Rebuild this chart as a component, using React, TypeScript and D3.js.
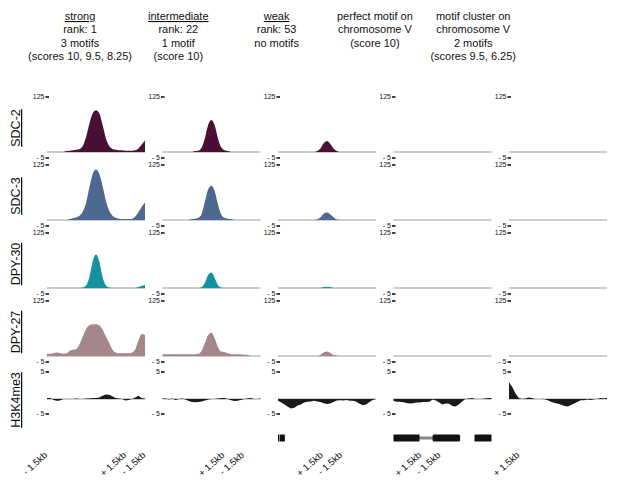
import * as d3 from 'd3';

const W = 617;
const H = 493;

// column ids and header text
const columns = ['strong', 'intermediate', 'weak', 'perfect', 'cluster'];
const headerLines = [
  ['strong', 'rank: 1', '3 motifs', '(scores 10, 9.5, 8.25)'],
  ['intermediate', 'rank: 22', '1 motif', '(score 10)'],
  ['weak', 'rank: 53', 'no motifs'],
  ['perfect motif on', 'chromosome V', '(score 10)'],
  ['motif cluster on', 'chromosome V', '2 motifs', '(scores 9.5, 6.25)'],
];
const titleUnderlined = [true, true, true, false, false];

const tracks = ['SDC-2', 'SDC-3', 'DPY-30', 'DPY-27', 'H3K4me3'];
const trackColors = ['#4a0f34', '#4f6890', '#15939d', '#a5868a', '#1a1a1a'];
const peakTicks = [-5, 125];
const histoneTicks = [-5, 5];

// bin centres, bp relative to the motif (-1.5kb .. +1.5kb)
const bins = d3.range(-1500, 1501, 100);

// ChIP signal per column (strong, intermediate, weak, perfect, cluster)
const sdc2Strong = [0, 0, 0, 0, 0, 0, 2, 3, 4, 5, 7, 14, 35, 65, 88, 95, 88, 62, 32, 14, 7, 5, 4, 4, 3, 3, 3, 4, 8, 17, 26];
const sdc2Intermediate = [0, 0, 0, 0, 0, 0, 0, 0, 0, 0, 2, 3, 10, 32, 62, 73, 60, 30, 10, 4, 2, 0, 0, 0, 0, 0, 0, 0, 0, 0, 0];
const sdc2Weak = [0, 0, 0, 0, 0, 0, 0, 0, 0, 0, 0, 0, 2, 8, 20, 25, 18, 8, 2, 0, 0, 0, 0, 0, 0, 0, 0, 0, 0, 0, 0];

const sdc3Strong = [0, 0, 0, 0, 0, 0, 0, 2, 4, 6, 10, 20, 40, 75, 105, 115, 105, 78, 45, 22, 10, 5, 3, 2, 2, 2, 3, 8, 18, 30, 40];
const sdc3Intermediate = [0, 0, 0, 0, 0, 0, 0, 0, 0, 2, 3, 5, 14, 42, 70, 78, 65, 35, 12, 5, 3, 2, 0, 0, 0, 0, 0, 0, 0, 0, 0];
const sdc3Weak = [0, 0, 0, 0, 0, 0, 0, 0, 0, 0, 0, 0, 1, 6, 14, 17, 13, 6, 1, 0, 0, 0, 0, 0, 0, 0, 0, 0, 0, 0, 0];

const dpy30Strong = [0, 0, 0, 0, 0, 0, 0, 0, 0, 0, 0, 1, 6, 25, 60, 76, 60, 25, 6, 1, 0, 0, 0, 0, 0, 0, 0, 0, 2, 5, 7];
const dpy30Intermediate = [0, 0, 0, 0, 0, 0, 0, 0, 0, 0, 0, 0, 2, 12, 30, 35, 22, 6, 1, 0, 0, 0, 0, 0, 0, 0, 0, 0, 0, 0, 0];
const dpy30Weak = [0, 0, 0, 0, 0, 0, 0, 0, 0, 0, 0, 0, 0, 0, 2, 3, 2, 0, 0, 0, 0, 0, 0, 0, 0, 0, 0, 0, 0, 0, 0];

const dpy27Strong = [5, 5, 6, 8, 7, 5, 6, 12, 14, 16, 28, 45, 62, 70, 72, 72, 70, 60, 45, 30, 15, 8, 6, 6, 6, 6, 8, 15, 35, 50, 48];
const dpy27Intermediate = [4, 4, 4, 4, 4, 4, 4, 4, 4, 4, 4, 5, 12, 30, 48, 53, 40, 20, 10, 9, 6, 4, 4, 4, 4, 3, 3, 0, 0, 0, 0];
const dpy27Weak = [0, 0, 0, 0, 0, 0, 0, 0, 0, 0, 0, 0, 0, 3, 8, 10, 7, 3, 1, 0, 0, 0, 0, 0, 0, 0, 0, 0, 0, 0, 0];

const h3Strong = [0.2, 0.2, -0.3, -0.6, -0.5, 0, 0, 0, 0, 0.1, 0, 0, 0.1, 0.1, 0.2, 0.2, 0.3, 0.6, 0.85, 0.8, 0.5, 0.2, 0.1, 0, -0.5, -0.3, 0, 0.3, 0.6, 0.2, 0.1];
const h3Intermediate = [0.1, 0.1, -0.2, 0.1, -0.3, 0, 0.1, -0.2, -0.7, -1.0, -1.1, -1.0, -0.8, -0.5, -0.2, 0, 0, 0.1, 0.2, 0.2, 0, -0.4, -0.7, -0.6, -0.3, 0, 0.1, 0.2, 0, 0, 0.1];
const h3Weak = [-0.6, -1.2, -1.8, -2.6, -3.2, -2.9, -2.2, -1.8, -1.2, -0.9, -0.8, -0.6, -0.8, -1.0, -1.4, -1.7, -1.5, -1.0, -0.5, -0.4, -0.5, -0.3, -0.6, -0.6, -0.9, -1.6, -2.1, -1.8, -1.0, -0.3, 0];
const h3Perfect = [-0.7, -0.9, -0.9, -1.1, -1.3, -1.5, -1.4, -1.2, -1.2, -1.0, -1.0, -0.9, -0.2, -0.5, -1.2, -1.8, -1.5, -1.6, -2.3, -2.5, -1.8, -0.8, 0, 0.1, 0.2, 0, 0, 0, 0.1, 0.2, 0.2];
const h3Cluster = [3.1, 2.2, 1.0, 0.2, 0, 0.1, 0.3, 0.2, 0, 0, 0, -0.1, -0.5, -1.0, -1.3, -1.6, -1.9, -2.3, -2.5, -2.0, -1.5, -0.9, -0.4, -0.4, -0.2, -0.3, -0.1, 0, 0.2, 0.1, 0.2];

const noSignal: number[] = [];

const signal: number[][][] = [
  [sdc2Strong, sdc2Intermediate, sdc2Weak, noSignal, noSignal],
  [sdc3Strong, sdc3Intermediate, sdc3Weak, noSignal, noSignal],
  [dpy30Strong, dpy30Intermediate, dpy30Weak, noSignal, noSignal],
  [dpy27Strong, dpy27Intermediate, dpy27Weak, noSignal, noSignal],
  [h3Strong, h3Intermediate, h3Weak, h3Perfect, h3Cluster],
];

// gene models under the panels, [start, end] in bp
const weakExons = [[-1500, -1455], [-1440, -1290]];
const perfectExons = [[-1500, -705], [-305, 540], [980, 1500]];
const perfectIntrons = [[-705, -305]];
const geneExons = [[], [], weakExons, perfectExons, []];
const geneIntrons = [[], [], [], perfectIntrons, []];

const FONT = '"Liberation Sans", Arial, sans-serif';

const colBand = d3.scaleBand<string>().domain(columns).range([47, 607]).paddingInner(0.1515);
const labelBand = d3.scaleBand<string>().domain(columns).range([47, 47 + 98.3 * 5]);
const rowBand = d3.scaleBand<string>().domain(tracks).range([97, 97 + 68 * 5]);

function yScale(track: string) {
  const top = rowBand(track)!;
  if (track === 'H3K4me3') {
    return d3.scaleLinear().domain([-5, 0, 5]).range([top + 45, top + 30, top + 3]);
  }
  return d3.scaleLinear().domain([-5, 0, 125]).range([top + 61, top + 55, top]);
}

const fmtTick = (d: number) => (d < 0 ? `- ${-d}` : `${d}`);

export default function App() {
  return (
    <svg width={W} height={H} style={{ position: 'absolute', left: 0, top: 0, background: '#fff' }}>
      {/* column headers */}
      {columns.map((c, ci) => {
        const cx = labelBand(c)! + 33;
        return (
          <text key={c} x={cx} textAnchor="middle" fontFamily={FONT} fontSize={11} fill="#111">
            {headerLines[ci].map((line, li) => (
              <tspan key={li} x={cx} y={20 + li * 13.3}
                textDecoration={li === 0 && titleUnderlined[ci] ? 'underline' : undefined}>
                {line}
              </tspan>
            ))}
          </text>
        );
      })}

      {/* track rows */}
      {tracks.map((t, ti) => {
        const y = yScale(t);
        const top = rowBand(t)!;
        const isHist = t === 'H3K4me3';
        const ticks = isHist ? histoneTicks : peakTicks;
        return (
          <g key={t}>
            <text transform={`translate(20,${top + 31}) rotate(-90)`} textAnchor="middle"
              fontFamily={FONT} fontSize={12.5} fill="#111" textDecoration="underline">
              {t}
            </text>
            {columns.map((c, ci) => {
              const x0 = colBand(c)!;
              const x = d3.scaleLinear().domain([-1500, 1500]).range([x0, x0 + colBand.bandwidth()]);
              const vals = signal[ti][ci];
              const area = d3.area<number>()
                .x((_, i) => x(bins[i]))
                .y0(y(0))
                .y1(d => y(d))
                .curve(isHist ? d3.curveLinear : d3.curveMonotoneX);
              return (
                <g key={c}>
                  <line x1={x0} x2={x0 + colBand.bandwidth()} y1={y(0)} y2={y(0)} stroke="#bcbcbc" strokeWidth={1.6} />
                  {vals.length > 0 && <path d={area(vals) || ''} fill={trackColors[ti]} />}
                  {ticks.map(tv => (
                    <g key={tv}>
                      <line x1={x0 - 1.5} x2={x0 + 2} y1={y(tv)} y2={y(tv)} stroke="#111" strokeWidth={1.6} />
                      <text x={x0 - 2.5} y={y(tv) + 2.4} textAnchor="end" fontFamily={FONT} fontSize={7} fill="#111">
                        {fmtTick(tv)}
                      </text>
                    </g>
                  ))}
                </g>
              );
            })}
          </g>
        );
      })}

      {/* gene models */}
      {columns.map((c, ci) => {
        const x0 = colBand(c)!;
        const x = d3.scaleLinear().domain([-1500, 1500]).range([x0, x0 + colBand.bandwidth()]);
        return (
          <g key={c}>
            {geneIntrons[ci].map(([s, e], i) => (
              <line key={i} x1={x(s)} x2={x(e)} y1={438} y2={438} stroke="#111" strokeWidth={3} strokeDasharray="1,1" />
            ))}
            {geneExons[ci].map(([s, e], i) => (
              <rect key={i} x={x(s)} y={434.5} width={x(e) - x(s)} height={7} fill="#111" rx={i === 1 && ci === 3 ? 1.5 : 0} />
            ))}
          </g>
        );
      })}

      {/* window labels */}
      {columns.map(c => {
        const lx = labelBand(c)!;
        return (
          <g key={c} fontFamily={FONT} fontSize={9.5} fill="#111">
            <text transform={`translate(${lx + 1},456) rotate(-42)`} textAnchor="end">- 1.5kb</text>
            <text transform={`translate(${lx + 80},456) rotate(-42)`} textAnchor="end">+ 1.5kb</text>
          </g>
        );
      })}
    </svg>
  );
}
